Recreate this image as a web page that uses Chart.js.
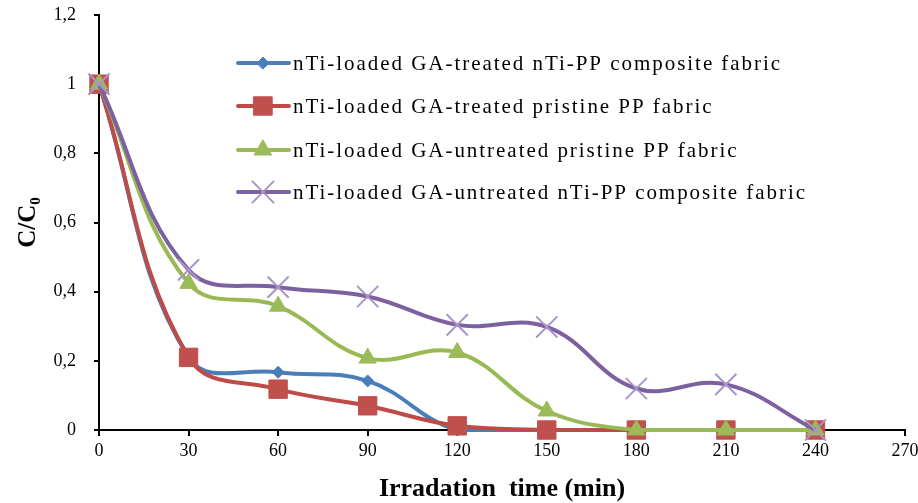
<!DOCTYPE html>
<html>
<head>
<meta charset="utf-8">
<script src="https://cdn.jsdelivr.net/npm/chart.js@4.4.1/dist/chart.umd.min.js"></script>
<style>
  html, body { margin: 0; padding: 0; background: #fff; }
  #wrap { width: 918px; height: 503px; }
</style>
</head>
<body>
<div id="wrap"><canvas id="myChart"></canvas></div>
<script>
const times = [0, 30, 60, 90, 120, 150, 180, 210, 240];
const treatedComposite = [1, 0.21, 0.167, 0.142, 0, 0, 0, 0, 0];
const treatedPristine = [1, 0.21, 0.118, 0.07, 0.012, 0, 0, 0, 0];
const untreatedPristine = [1, 0.424, 0.358, 0.208, 0.224, 0.055, 0, 0, 0];
const untreatedComposite = [1, 0.463, 0.413, 0.386, 0.304, 0.298, 0.12, 0.132, 0];
const xTicks = [0, 30, 60, 90, 120, 150, 180, 210, 240, 270];
const yTicks = [0, 0.2, 0.4, 0.6, 0.8, 1, 1.2];

const serif = "'Liberation Serif', 'Times New Roman', serif";

function pts(vals) {
    return vals.map((v, i) => ({ x: times[i], y: v }));
}

// legend drawn inside the plot, line + marker like the original
const innerLegend = {
    id: 'innerLegend',
    afterDraw(chart) {
        const c = chart.ctx;
        const rows = [63, 106, 150, 192];
        c.save();
        c.font = '21px ' + serif;
        // spread the letters so the longest label is about as wide as in the picture
        const longest = chart.data.datasets.reduce((a, d) => d.label.length > a.length ? d.label : a, '');
        const spacing = (514 - c.measureText(longest).width) / longest.length;
        c.restore();
        chart.data.datasets.forEach((ds, i) => {
            const y = rows[i];
            c.save();
            c.strokeStyle = ds.borderColor;
            c.lineWidth = 4;
            c.lineCap = 'round';
            c.beginPath();
            c.moveTo(238, y);
            c.lineTo(289, y);
            c.stroke();
            c.fillStyle = ds.pointBackgroundColor;
            c.strokeStyle = ds.pointBorderColor;
            c.lineWidth = ds.pointBorderWidth;
            Chart.helpers.drawPoint(c, {
                pointStyle: ds.pointStyle,
                radius: ds.pointRadius,
                rotation: 0,
                borderWidth: ds.pointBorderWidth
            }, 263, y);
            c.font = '21px ' + serif;
            c.letterSpacing = spacing.toFixed(2) + 'px';
            c.fillStyle = '#000';
            c.textBaseline = 'middle';
            c.fillText(ds.label, 293, y + 1);
            c.restore();
        });
    }
};

const ctx = document.getElementById('myChart').getContext('2d');
const myChart = new Chart(ctx, {
    type: 'line',
    data: {
        datasets: [{
            label: 'nTi-loaded GA-treated nTi-PP composite fabric',
            data: pts(treatedComposite),
            borderColor: '#4a7ebb',
            pointBackgroundColor: '#4a7ebb',
            pointBorderColor: '#4a7ebb',
            pointStyle: 'rectRot',
            pointRadius: 6,
            pointBorderWidth: 1,
            order: 4
        }, {
            label: 'nTi-loaded GA-treated pristine PP fabric',
            data: pts(treatedPristine),
            borderColor: '#be4b48',
            pointBackgroundColor: '#c0504d',
            pointBorderColor: '#c0504d',
            pointStyle: 'rect',
            pointRadius: 13,
            pointBorderWidth: 1,
            order: 3
        }, {
            label: 'nTi-loaded GA-untreated pristine PP fabric',
            data: pts(untreatedPristine),
            borderColor: '#98b954',
            pointBackgroundColor: '#9bbb59',
            pointBorderColor: '#9bbb59',
            pointStyle: 'triangle',
            pointRadius: 10,
            pointBorderWidth: 1,
            order: 2
        }, {
            label: 'nTi-loaded GA-untreated nTi-PP composite fabric',
            data: pts(untreatedComposite),
            borderColor: '#7d60a0',
            pointBackgroundColor: '#a995c8',
            pointBorderColor: '#a995c8',
            pointStyle: 'crossRot',
            pointRadius: 15,
            pointBorderWidth: 2,
            order: 1
        }]
    },
    options: {
        responsive: true,
        maintainAspectRatio: false,
        animation: false,
        datasets: {
            line: { borderWidth: 4, tension: 0.4, fill: false, clip: false }
        },
        layout: { autoPadding: false, padding: { top: 15, right: 13, left: 0, bottom: 0 } },
        plugins: {
            legend: { display: false },
            tooltip: { enabled: false }
        },
        scales: {
            x: {
                type: 'linear',
                min: 0,
                max: 270,
                afterBuildTicks: s => { s.ticks = xTicks.map(v => ({ value: v })); },
                afterFit: s => { s.height = 73; s.paddingLeft = 0; s.paddingRight = 0; },
                border: { display: true, color: '#000', width: 2 },
                grid: { drawOnChartArea: false, drawTicks: true, tickLength: 6, color: '#000', lineWidth: 2 },
                ticks: {
                    color: '#000',
                    font: { family: serif, size: 18 },
                    padding: 4,
                    maxRotation: 0
                },
                title: {
                    display: true,
                    text: 'Irradation  time (min)',
                    color: '#000',
                    font: { family: serif, size: 26, weight: 'bold' },
                    padding: { top: 25, bottom: -2 }
                }
            },
            y: {
                min: 0,
                max: 1.2,
                afterBuildTicks: s => { s.ticks = yTicks.map(v => ({ value: v })); },
                afterFit: s => { s.width = 99; s.paddingTop = 0; s.paddingBottom = 0; },
                border: { display: true, color: '#000', width: 2 },
                grid: { drawOnChartArea: false, drawTicks: true, tickLength: 5, color: '#000', lineWidth: 2 },
                ticks: {
                    color: '#000',
                    font: { family: serif, size: 18 },
                    padding: 18,
                    callback: v => String(Math.round(v * 10) / 10).replace('.', ',')
                },
                title: {
                    display: true,
                    text: 'C/C₀',
                    color: '#000',
                    font: { family: serif, size: 25, weight: 'bold' },
                    padding: { bottom: 0, top: 14 }
                }
            }
        }
    },
    plugins: [innerLegend]
});
</script>
</body>
</html>
